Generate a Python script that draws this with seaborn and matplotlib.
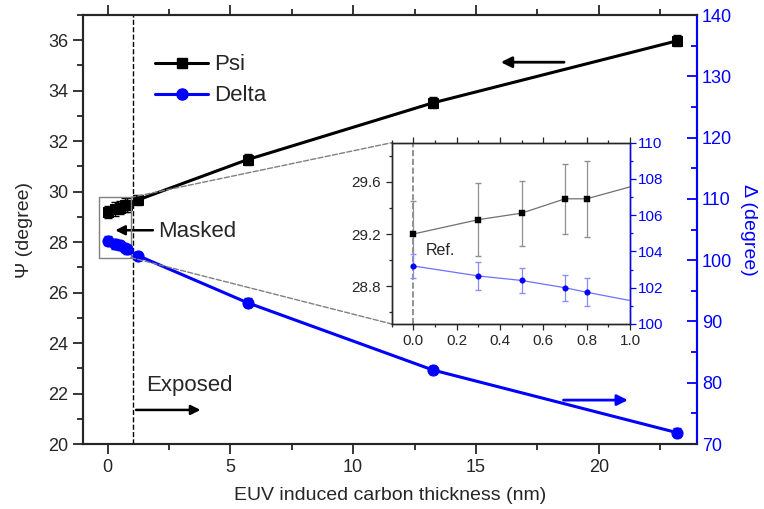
import matplotlib
matplotlib.use('Agg')
import matplotlib.pyplot as plt
import seaborn as sns
from matplotlib.patches import Rectangle, ConnectionPatch
from matplotlib.lines import Line2D
from matplotlib.ticker import MultipleLocator

# data
thickness = [0, 0.3, 0.5, 0.7, 0.8, 1.26, 5.7, 13.25, 23.2]
psi = [29.2, 29.31, 29.36, 29.47, 29.47, 29.68, 31.27, 33.52, 35.98]
psi_err = [0.25, 0.28, 0.25, 0.27, 0.29, 0.2, 0.22, 0.22, 0.22]
delta = [103.2, 102.65, 102.4, 102.0, 101.75, 100.7, 93.05, 82.07, 71.84]
delta_err = [0.68, 0.75, 0.68, 0.71, 0.78, 0.7, 0.7, 0.7, 0.7]

BLUE = '#0000ff'

sns.set_style('ticks')
plt.rcParams['font.family'] = ['Liberation Sans', 'DejaVu Sans']

fig = plt.figure(figsize=(7.64, 5.09), dpi=100)
ax = fig.add_axes([0.1086, 0.1277, 0.8037, 0.8428])
ax2 = ax.twinx()

# main curves
ax.errorbar(thickness, psi, yerr=psi_err, fmt='none', ecolor='black', elinewidth=1, capsize=3, zorder=3)
sns.lineplot(x=thickness, y=psi, ax=ax, color='black', lw=2.2, marker='s', markersize=7.5,
             markeredgecolor='black', zorder=4, legend=False)
ax2.errorbar(thickness, delta, yerr=delta_err, fmt='none', ecolor=BLUE, elinewidth=1, capsize=3, zorder=3)
sns.lineplot(x=thickness, y=delta, ax=ax2, color=BLUE, lw=2.2, marker='o', markersize=8,
             markeredgecolor=BLUE, zorder=4, legend=False)

ax.set_xlim(-1, 24)
ax.set_ylim(20, 37)
ax2.set_ylim(70, 140)
ax.xaxis.set_major_locator(MultipleLocator(5))
ax.xaxis.set_minor_locator(MultipleLocator(2.5))
ax.yaxis.set_major_locator(MultipleLocator(2))
ax.yaxis.set_minor_locator(MultipleLocator(1))
ax2.yaxis.set_major_locator(MultipleLocator(10))
ax2.yaxis.set_minor_locator(MultipleLocator(5))

for a in (ax, ax2):
    for s in a.spines.values():
        s.set_visible(True)
        s.set_linewidth(1.5)
ax2.spines['right'].set_color(BLUE)
ax.tick_params(axis='both', which='major', labelsize=13, length=7, width=1.3, direction='out')
ax.tick_params(axis='both', which='minor', length=4, width=1.3, direction='out')
ax.tick_params(axis='x', top=True, which='both')
ax2.tick_params(axis='y', which='both', direction='in', colors=BLUE, width=1.3, right=True, left=False)
ax2.tick_params(axis='y', which='major', labelsize=13, length=7)
ax2.tick_params(axis='y', which='minor', length=4)

ax.set_xlabel('EUV induced carbon thickness (nm)', fontsize=14, labelpad=8)
ax.set_ylabel('Ψ (degree)', fontsize=14, labelpad=11)
ax2.set_ylabel('Δ (degree)', fontsize=14, color=BLUE, rotation=270, labelpad=18)

# reference line and annotations
ax.axvline(1.05, color='black', ls='--', lw=1, zorder=2)
ax.add_patch(Rectangle((-0.35, 27.39), 1.29, 2.38, fill=False, ec='gray', lw=1, zorder=5))

ax.annotate('', xy=(0.2, 28.47), xytext=(1.96, 28.47),
            arrowprops=dict(arrowstyle='-|>', color='black', lw=1.8, mutation_scale=14))
ax.text(2.04, 28.44, 'Masked', fontsize=16, va='center', ha='left')
ax.annotate('', xy=(3.9, 21.35), xytext=(1.05, 21.35),
            arrowprops=dict(arrowstyle='-|>', color='black', lw=1.8, mutation_scale=14))
ax.text(1.59, 22.3, 'Exposed', fontsize=16, va='center', ha='left')
ax.annotate('', xy=(15.9, 35.13), xytext=(18.7, 35.13),
            arrowprops=dict(arrowstyle='-|>', color='black', lw=2, mutation_scale=16))
ax.annotate('', xy=(21.3, 21.74), xytext=(18.45, 21.74),
            arrowprops=dict(arrowstyle='-|>', color=BLUE, lw=2, mutation_scale=16))

handles = [Line2D([], [], color='black', lw=2.2, marker='s', markersize=7.5),
           Line2D([], [], color=BLUE, lw=2.2, marker='o', markersize=8)]
ax.legend(handles, ['Psi', 'Delta'], loc='upper left', bbox_to_anchor=(0.085, 0.955), frameon=False,
          fontsize=16, handlelength=2.4, handletextpad=0.25, labelspacing=0.45)

# inset
ins = fig.add_axes([0.5127, 0.3635, 0.3119, 0.3561])
ins2 = ins.twinx()
ins.set_zorder(10)
ins2.set_zorder(11)
ins2.patch.set_visible(False)
ins.errorbar(thickness[:6], psi[:6], yerr=psi_err[:6], fmt='none', ecolor='#909090', elinewidth=0.9,
             capsize=2.5, zorder=3)
sns.lineplot(x=thickness[:6], y=psi[:6], ax=ins, color='#707070', lw=0.9, zorder=4, legend=False)
sns.scatterplot(x=thickness[:5], y=psi[:5], ax=ins, color='black', marker='s', s=14, edgecolor='black',
                zorder=5, legend=False)
ins2.errorbar(thickness[:6], delta[:6], yerr=delta_err[:6], fmt='none', ecolor='#8c8cff', elinewidth=0.9,
              capsize=2.5, zorder=3)
sns.lineplot(x=thickness[:6], y=delta[:6], ax=ins2, color='#7070ff', lw=0.9, zorder=4, legend=False)
sns.scatterplot(x=thickness[:5], y=delta[:5], ax=ins2, color=BLUE, marker='o', s=16, edgecolor=BLUE,
                zorder=5, legend=False)
ins.axvline(0, color='gray', ls='--', lw=1.2, zorder=2)
ins.text(0.055, 29.07, 'Ref.', fontsize=11.5, va='center', ha='left')

ins.set_xlim(-0.1, 1.0)
ins.set_ylim(28.51, 29.9)
ins2.set_ylim(100, 110)
ins.xaxis.set_major_locator(MultipleLocator(0.2))
ins.xaxis.set_minor_locator(MultipleLocator(0.1))
ins.yaxis.set_major_locator(MultipleLocator(0.4))
ins.yaxis.set_minor_locator(MultipleLocator(0.2))
ins2.yaxis.set_major_locator(MultipleLocator(2))
ins2.yaxis.set_minor_locator(MultipleLocator(1))
ins.xaxis.set_major_formatter(plt.FormatStrFormatter('%.1f'))
ins.yaxis.set_major_formatter(plt.FormatStrFormatter('%.1f'))
for a in (ins, ins2):
    for s in a.spines.values():
        s.set_visible(True)
        s.set_linewidth(1)
ins2.spines['right'].set_color(BLUE)
ins.tick_params(axis='both', which='major', labelsize=11, length=4, width=0.9, direction='out')
ins.tick_params(axis='both', which='minor', length=2.5, width=0.9, direction='out')
ins.tick_params(axis='x', top=True, which='both')
ins2.tick_params(axis='y', which='major', labelsize=11, length=4, width=0.9, colors=BLUE, pad=2)
ins2.tick_params(axis='y', which='minor', length=2.5, width=0.9, colors=BLUE)

# zoom connectors
for corner, frac in (((0.94, 29.77), (0, 1)), ((0.94, 27.39), (0, 0))):
    con = ConnectionPatch(xyA=corner, coordsA=ax.transData, xyB=frac, coordsB=ins.transAxes,
                          color='gray', ls='--', lw=1, zorder=1)
    fig.add_artist(con)

fig.savefig('out.png', dpi=100)
